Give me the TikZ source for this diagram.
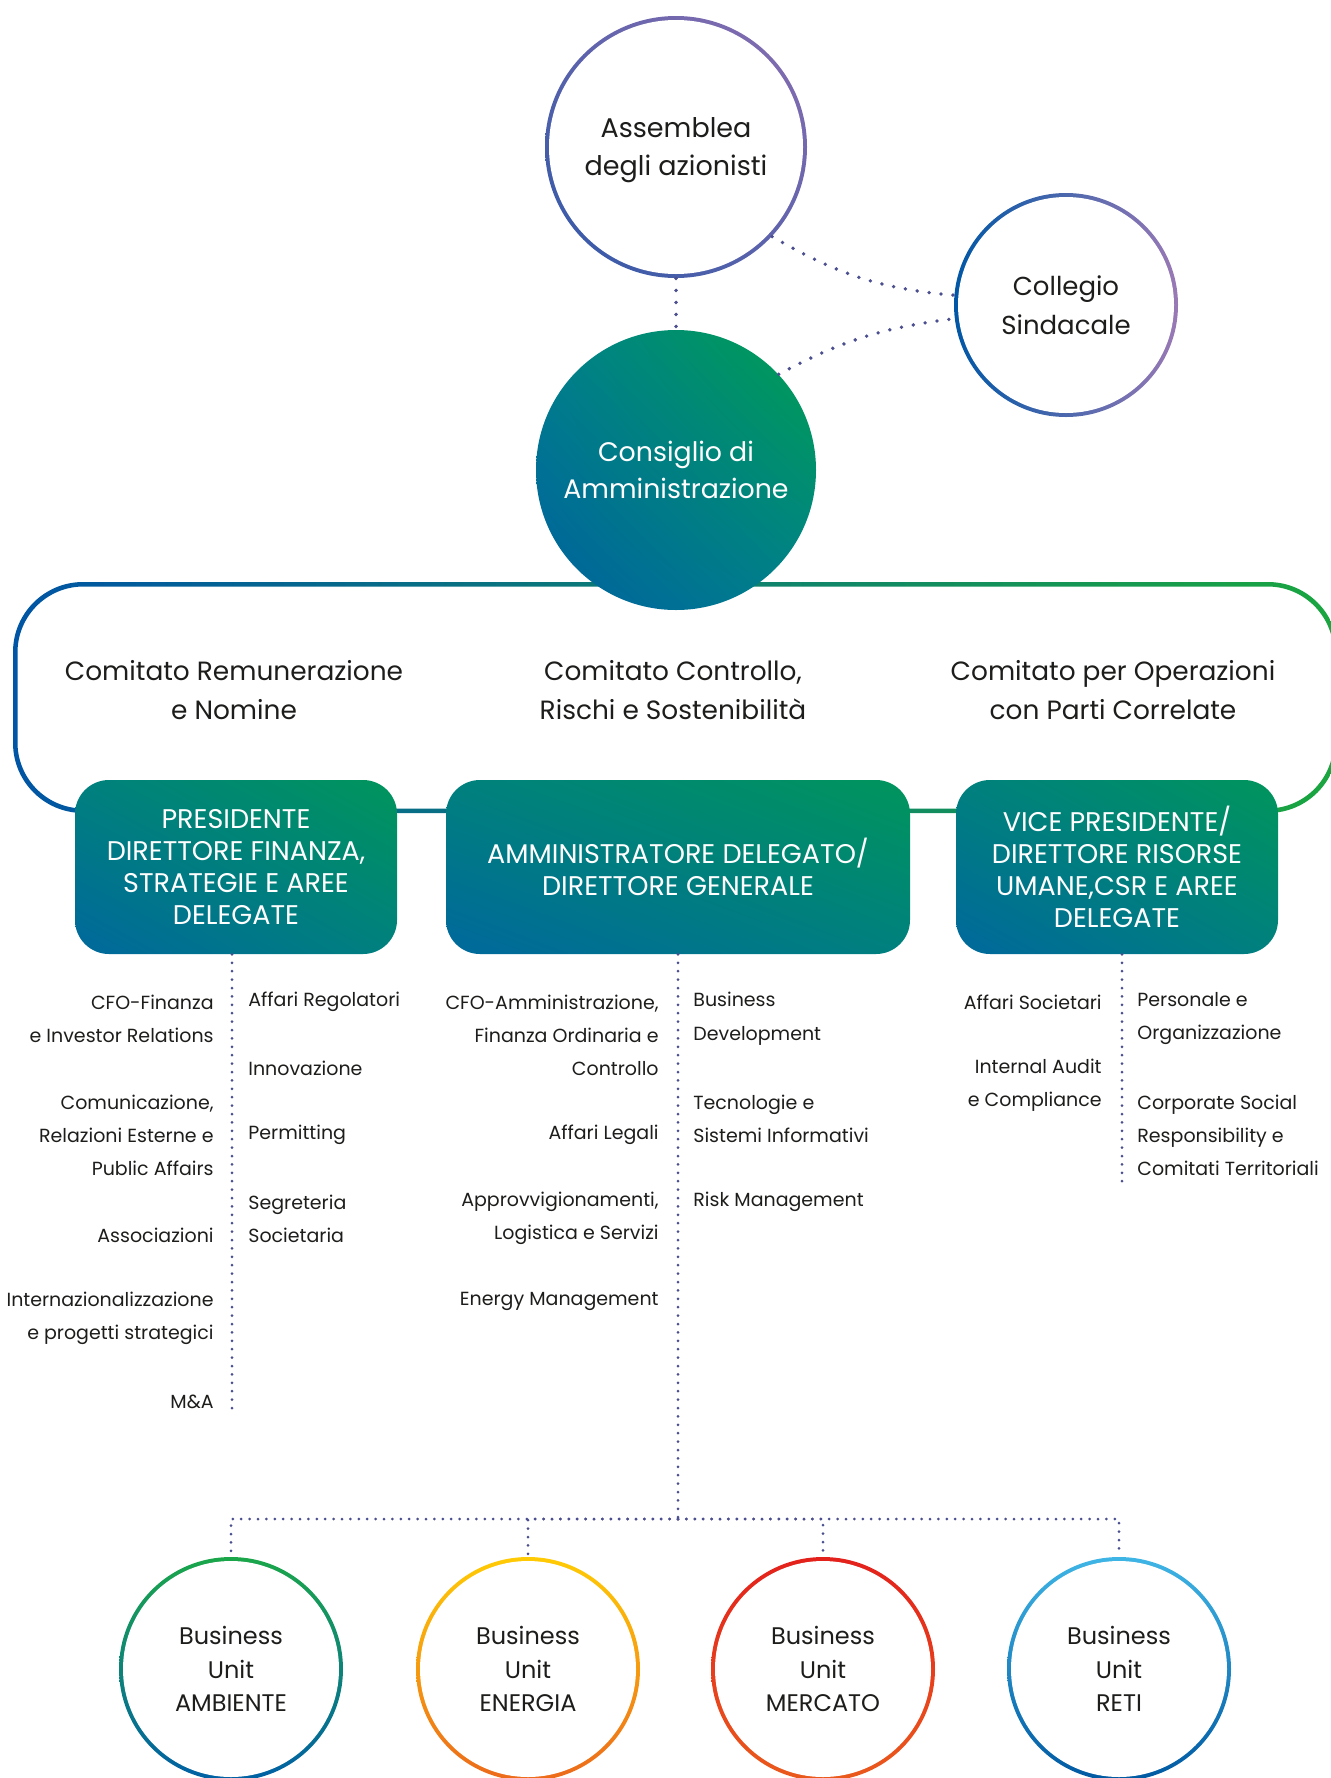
\documentclass[tikz,border=0pt]{standalone}
\usepackage{fontspec}
\setmainfont{Poppins}
\usetikzlibrary{calc,shapes.geometric,shadings,positioning}
\definecolor{dotcol}{HTML}{4B4F8F}
\definecolor{inkcol}{HTML}{1D1D1B}
\definecolor{frameblue}{HTML}{0055A4}
\definecolor{framegreen}{HTML}{1AA640}
\definecolor{boxgreen}{HTML}{00955C}
\definecolor{boxblue}{HTML}{00689C}
\definecolor{boxmid}{HTML}{00807E}
\definecolor{cdagreen}{HTML}{009F4F}
\definecolor{cdablue}{HTML}{00609E}
\definecolor{cdamid}{HTML}{00808C}
\definecolor{asmpurple}{HTML}{8B6EB1}
\definecolor{asmblue}{HTML}{2F58A7}
\definecolor{asmmid}{HTML}{5D63AC}
\definecolor{colblue}{HTML}{0057A6}
\definecolor{colpurple}{HTML}{9A79B5}
\definecolor{bugreen}{HTML}{1BA64A}
\definecolor{bublueA}{HTML}{0060A5}
\definecolor{buyellow}{HTML}{FFCB05}
\definecolor{buorange}{HTML}{EC6A1B}
\definecolor{bured}{HTML}{E3211C}
\definecolor{burust}{HTML}{EA5A1C}
\definecolor{bucyan}{HTML}{3FB5E5}
\definecolor{bublueB}{HTML}{0059A2}
\tikzstyle{bigring} = [circle, inner sep=0pt, minimum size=131pt, align=center, text=inkcol, font=\fontsize{13.5}{19}\selectfont, path picture={\fill[white] (path picture bounding box.center) circle[radius=63.5pt];}]
\tikzstyle{smallring} = [circle, inner sep=0pt, minimum size=112pt, align=center, text=inkcol, font=\fontsize{13}{19.3}\selectfont, path picture={\fill[white] (path picture bounding box.center) circle[radius=54pt];}]
\tikzstyle{unitring} = [smallring, font=\fontsize{12}{16.7}\selectfont]
\tikzstyle{board} = [circle, inner sep=0pt, minimum size=140pt, align=center, text=white, font=\fontsize{13.4}{18.7}\selectfont, upper right=cdagreen, lower left=cdablue, upper left=cdamid, lower right=cdamid]
\tikzstyle{committee} = [align=center, text=inkcol, font=\fontsize{13.2}{19.3}\selectfont]
\tikzstyle{rolebox} = [rectangle, rounded corners=17pt, minimum width=161pt, minimum height=87pt, inner sep=2pt, align=center, text=white, font=\fontsize{13.5}{16}\selectfont, upper right=boxgreen, lower left=boxblue, upper left=boxmid, lower right=boxmid]
\tikzstyle{listleft} = [anchor=east, align=right, inner sep=0pt, text=inkcol, font=\fontsize{9.5}{16.65}\selectfont]
\tikzstyle{listright} = [anchor=west, align=left, inner sep=0pt, text=inkcol, font=\fontsize{9.5}{16.65}\selectfont]
\tikzstyle{dotline} = [draw=dotcol, line width=1.5pt, line cap=round, dash pattern=on 0pt off 4.2pt]
\tikzstyle{dotwide} = [dotline, line width=1.9pt, dash pattern=on 0pt off 6pt]
\begin{document}
\begin{tikzpicture}[x=0.5pt,y=0.5pt]
\useasboundingbox (0,0) rectangle (1330,-1778);

\shade[left color=frameblue, right color=framegreen, even odd rule, rounded corners=35pt] (13,-582) rectangle (1338,-813) [rounded corners=33pt] (17.5,-586.5) rectangle (1333.5,-808.5);

\node (cda) [board] at (676,-470) {Consiglio di\\Amministrazione};
\node (asm) [bigring, text depth=0pt, upper right=asmpurple, lower left=asmblue, upper left=asmmid, lower right=asmmid] at (676,-147) {Assemblea\\degli azionisti};
\node (col) [smallring, left color=colblue, right color=colpurple] at (1066,-305) {Collegio\\Sindacale};

\node (remnom) [committee] at (234,-690) {Comitato Remunerazione\\e Nomine};
\node (ctrlrisk) [committee] at (673,-690) {Comitato Controllo,\\Rischi e Sostenibilità};
\node (partcorr) [committee] at (1113,-690) {Comitato per Operazioni\\con Parti Correlate};

\node (pres) [rolebox] at (236,-867) {PRESIDENTE\\DIRETTORE FINANZA,\\STRATEGIE E AREE\\DELEGATE};
\node (dg) [rolebox, minimum width=232pt] at (678,-867) {AMMINISTRATORE DELEGATO/\\DIRETTORE GENERALE};
\node (vp) [rolebox] at (1117,-867) {VICE PRESIDENTE/\\DIRETTORE RISORSE\\UMANE,CSR E AREE\\DELEGATE};

\node (cfo) [listleft] at (214,-1018.7) {CFO-Finanza\\e Investor Relations};
\node (comm) [listleft] at (214,-1135.2) {Comunicazione,\\Relazioni Esterne e\\Public Affairs};
\node (assoc) [listleft] at (214,-1235.1) {Associazioni};
\node (intl) [listleft] at (214,-1318.4) {Internazionalizzazione\\e progetti strategici};
\node (ma) [listleft] at (214,-1401.6) {M\&A};
\node (regol) [listright] at (248,-1002) {Affari Regolatori};
\node (innov) [listright] at (248,-1068.6) {Innovazione};
\node (permit) [listright] at (248,-1135.2) {Permitting};
\node (segr) [listright] at (248,-1218.5) {Segreteria\\Societaria};

\node (amm) [listleft] at (659,-1035.3) {CFO-Amministrazione,\\Finanza Ordinaria e\\Controllo};
\node (legal) [listleft] at (659,-1135.2) {Affari Legali};
\node (approv) [listleft] at (659,-1218.5) {Approvvigionamenti,\\Logistica e Servizi};
\node (energy) [listleft] at (659,-1301.7) {Energy Management};
\node (busdev) [listright] at (693,-1018.7) {Business\\Development};
\node (tech) [listright] at (693,-1118.6) {Tecnologie e\\Sistemi Informativi};
\node (risk) [listright] at (693,-1201.8) {Risk Management};

\node (affsoc) [listleft] at (1102,-1002) {Affari Societari};
\node (audit) [listleft] at (1102,-1085.3) {Internal Audit\\e Compliance};
\node (pers) [listright] at (1137,-1018.7) {Personale e\\Organizzazione};
\node (csr) [listright] at (1137,-1135.2) {Corporate Social\\Responsibility e\\Comitati Territoriali};

\node (buamb) [unitring, top color=bugreen, bottom color=bublueA] at (231,-1669) {Business\\Unit\\AMBIENTE};
\node (buene) [unitring, top color=buyellow, bottom color=buorange] at (528,-1669) {Business\\Unit\\ENERGIA};
\node (bumer) [unitring, top color=bured, bottom color=burust] at (823,-1669) {Business\\Unit\\MERCATO};
\node (bureti) [unitring, top color=bucyan, bottom color=bublueB] at (1119,-1669) {Business\\Unit\\RETI};

\coordinate (presend) at (232,-1409);
\coordinate (vpend) at (1122,-1186);
\coordinate (hub) at (678,-1519);

\draw [dotwide] (asm) -- (cda);
\draw [dotwide] (asm.-43) to[out=-30, in=175] (col.175);
\draw [dotwide] (cda.43) to[out=28, in=187] (col.187);
\draw [dotline] (pres.south -| presend) -- (presend);
\draw [dotline] (vp.south -| vpend) -- (vpend);
\draw [dotline] (dg) -- (hub);
\draw [dotline] (hub) -| (buamb);
\draw [dotline] (hub) -| (buene);
\draw [dotline] (hub) -| (bumer);
\draw [dotline] (hub) -| (bureti);
\end{tikzpicture}
\end{document}
